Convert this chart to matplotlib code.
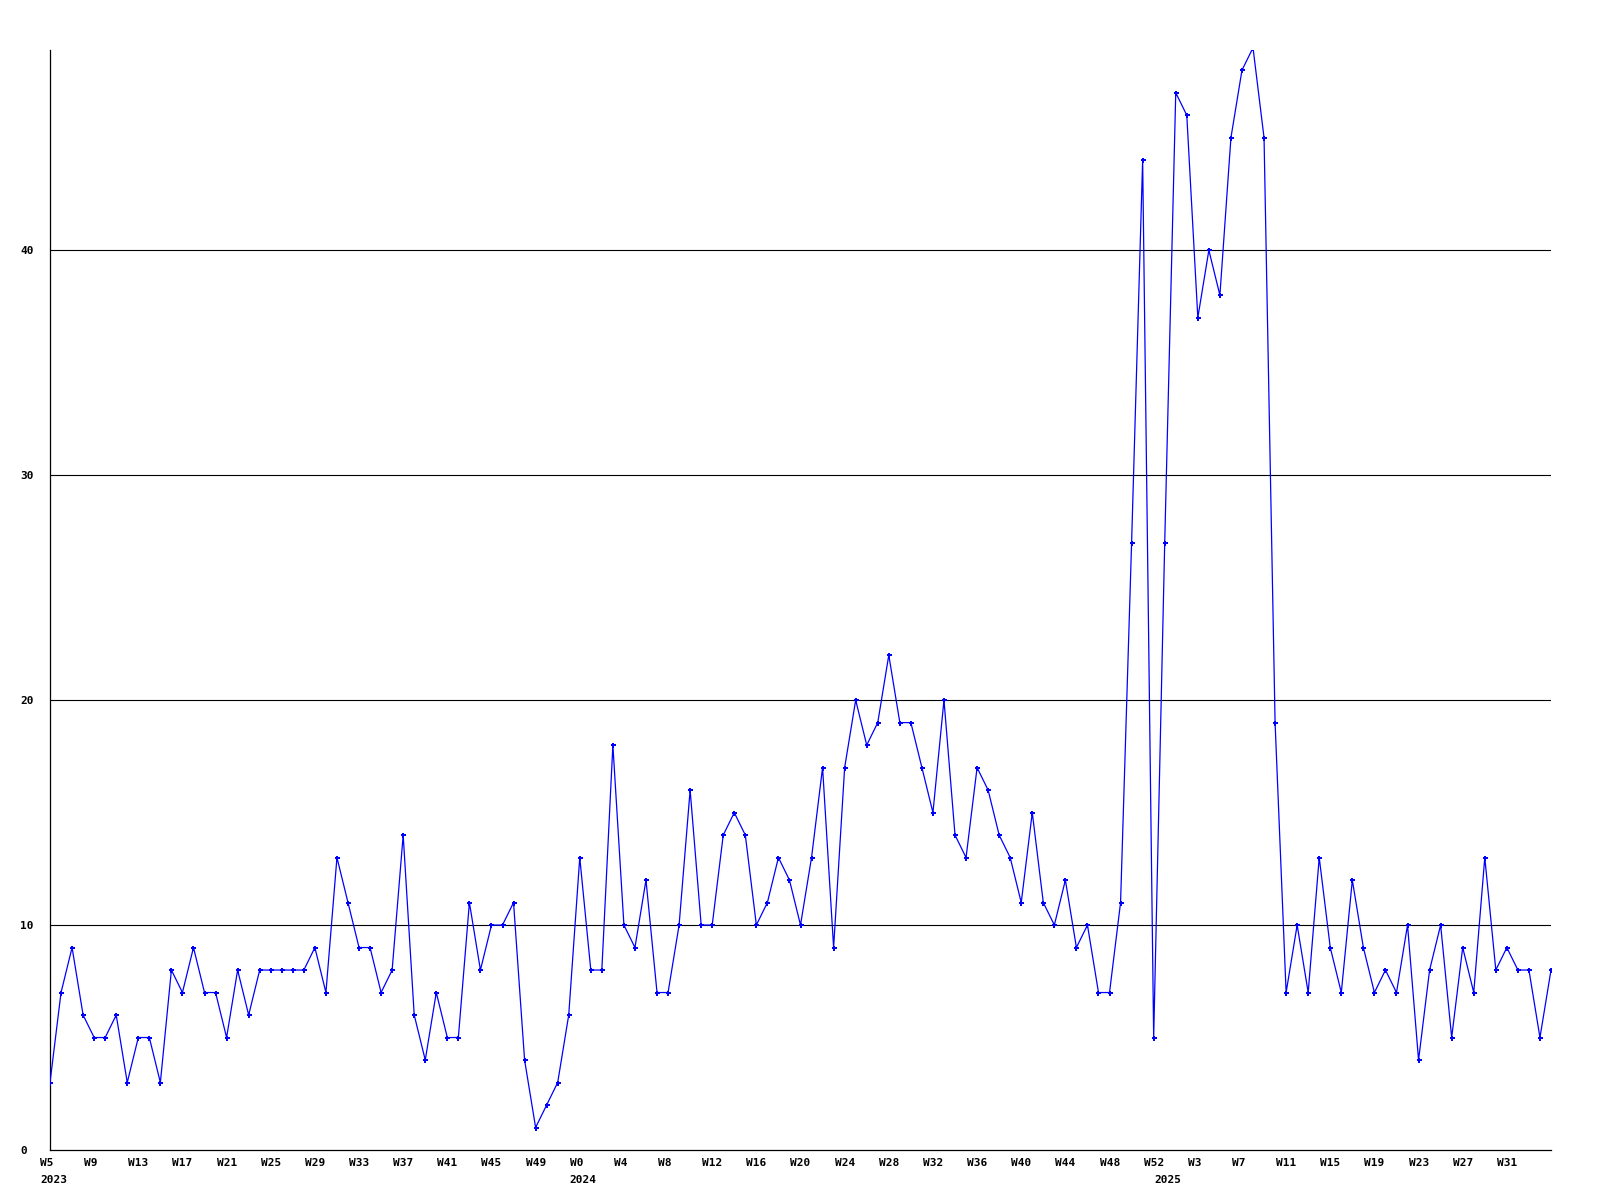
import matplotlib
matplotlib.use("Agg")
import matplotlib.pyplot as plt
from matplotlib.transforms import ScaledTranslation

# 每周计数 (2023 W5 - 2025 W35)
weeks_2023 = list(range(5, 53))
weeks_2024 = list(range(0, 53))
weeks_2025 = list(range(0, 36))

values_2023 = [3, 7, 9, 6, 5, 5, 6, 3, 5, 5, 3, 8, 7, 9, 7, 7, 5, 8, 6, 8,
               8, 8, 8, 8, 9, 7, 13, 11, 9, 9, 7, 8, 14, 6, 4, 7, 5, 5, 11, 8,
               10, 10, 11, 4, 1, 2, 3, 6]
values_2024 = [13, 8, 8, 18, 10, 9, 12, 7, 7, 10, 16, 10, 10, 14, 15, 14, 10, 11,
               13, 12, 10, 13, 17, 9, 17, 20, 18, 19, 22, 19, 19, 17, 15, 20, 14,
               13, 17, 16, 14, 13, 11, 15, 11, 10, 12, 9, 10, 7, 7, 11, 27, 44, 5]
values_2025 = [27, 47, 46, 37, 40, 38, 45, 48, 49, 45, 19, 7, 10, 7, 13, 9, 7, 12,
               9, 7, 8, 7, 10, 4, 8, 10, 5, 9, 7, 13, 8, 9, 8, 8, 5, 8]

years = [2023] * len(weeks_2023) + [2024] * len(weeks_2024) + [2025] * len(weeks_2025)
weeks = weeks_2023 + weeks_2024 + weeks_2025
values = values_2023 + values_2024 + values_2025
xs = list(range(len(values)))

y_ticks = [0, 10, 20, 30, 40]

mono = {"family": "DejaVu Sans Mono", "weight": "bold", "size": 8}

fig = plt.figure(figsize=(16, 12), dpi=100)
ax = fig.add_axes([50 / 1600, 50 / 1200, 1501 / 1600, 1100 / 1200])

# 网格线 (水平)
for yv in y_ticks[1:]:
    ax.axhline(yv, color="black", lw=0.8, zorder=1)

# 折线 + 点
ax.plot(xs, values, color="#0000ff", lw=0.9, marker="P", ms=3.6, mew=0, zorder=3)

ax.set_xlim(0, 136.0)
ax.set_ylim(0, 48.9)

for side in ["top", "right"]:
    ax.spines[side].set_visible(False)
for side in ["left", "bottom"]:
    ax.spines[side].set_color("black")
    ax.spines[side].set_linewidth(0.9)

# y 轴刻度
ax.set_yticks(y_ticks)
ax.set_yticklabels([str(v) for v in y_ticks], fontdict=mono)
ax.tick_params(axis="y", length=0, pad=21.6)
for lab in ax.get_yticklabels():
    lab.set_horizontalalignment("left")

# x 轴刻度: 每4周 (最后一个点不标)
tick_idx = [i for i in xs[::4] if i < xs[-1]]
ax.set_xticks(tick_idx)
ax.set_xticklabels([f"W{weeks[i]}" for i in tick_idx], fontdict=mono)
ax.tick_params(axis="x", length=0, pad=5.5)
shift = ScaledTranslation(-10 / 100, 0, fig.dpi_scale_trans)
for lab in ax.get_xticklabels():
    lab.set_horizontalalignment("left")
    lab.set_transform(lab.get_transform() + shift)

# 年份标签
for i in xs:
    if i == 0 or years[i] != years[i - 1]:
        ax.annotate(str(years[i]), xy=(i, 0), xycoords=("data", "axes fraction"),
                    xytext=(-7.2, -18), textcoords="offset points",
                    ha="left", va="top", **mono)

fig.savefig("out.png", dpi=100, facecolor="white")
plt.close(fig)
